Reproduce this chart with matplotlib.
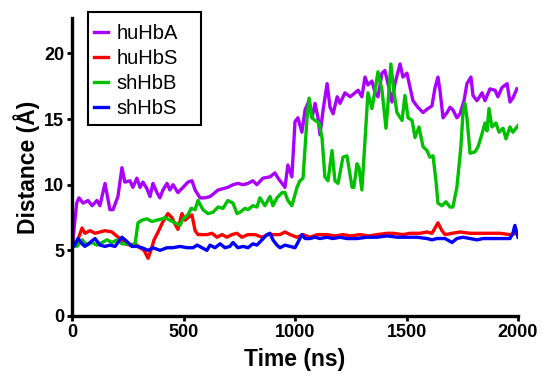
import matplotlib
matplotlib.use("Agg")
import matplotlib.pyplot as plt
from matplotlib.patches import Rectangle

# huHbA
t_hua = [0, 10, 21, 31, 50, 72, 90, 112, 125, 148, 170, 184, 206, 224, 237, 260, 273, 291, 305, 318,
         336, 350, 363, 381, 394, 408, 426, 439, 453, 475, 498, 520, 538, 552, 574, 596, 619, 641, 655,
         677, 699, 722, 744, 767, 789, 811, 829, 856, 888, 910, 924, 942, 955, 968, 986, 1000, 1013, 1031,
         1045, 1063, 1076, 1090, 1103, 1112, 1126, 1144, 1157, 1171, 1189, 1202, 1224, 1247, 1269, 1283,
         1300, 1314, 1327, 1345, 1359, 1372, 1390, 1403, 1417, 1435, 1448, 1471, 1484, 1502, 1516, 1529,
         1551, 1574, 1596, 1614, 1628, 1641, 1650, 1664, 1682, 1695, 1708, 1726, 1740, 1758, 1771, 1789,
         1798, 1816, 1839, 1852, 1874, 1897, 1910, 1928, 1951, 1964, 1977, 1995]
d_hua = [4.8, 6.8, 8.6, 9.0, 8.6, 8.8, 8.4, 8.8, 8.4, 10.1, 8.1, 8.1, 9.1, 11.3, 10.2, 10.3, 9.8, 10.5, 9.8, 10.2,
         9.7, 9.1, 10.1, 9.4, 9.0, 9.6, 10.1, 9.6, 10.0, 9.4, 9.8, 10.2, 10.3, 9.6, 9.0, 9.0, 9.1, 9.4, 9.6,
         9.7, 9.8, 10.0, 10.1, 10.0, 10.1, 10.3, 10.0, 10.5, 10.6, 10.9, 10.5, 10.1, 9.8, 11.5, 10.6, 14.8, 15.1, 14.0,
         15.7, 16.4, 15.1, 16.2, 15.1, 13.8, 15.7, 17.7, 15.9, 15.4, 16.7, 16.2, 17.0, 16.7, 17.0, 17.2,
         16.7, 18.2, 17.6, 17.9, 17.0, 16.7, 18.5, 18.7, 17.7, 16.3, 17.7, 19.2, 18.2, 18.5, 17.4, 16.4,
         15.9, 15.5, 15.8, 16.0, 17.4, 18.2, 17.2, 15.1, 15.5, 15.9, 15.7, 15.1, 15.4, 16.4, 17.7, 18.2,
         16.8, 16.4, 17.0, 16.4, 17.3, 17.2, 16.7, 17.4, 17.7, 16.3, 16.6, 17.3]

# huHbS
t_hus = [0, 22, 45, 58, 81, 103, 126, 148, 179, 193, 215, 238, 260, 283, 305, 323, 341, 354, 368, 386,
         408, 430, 448, 462, 475, 493, 507, 520, 538, 552, 565, 583, 605, 628, 650, 673, 695, 717, 740,
         762, 789, 821, 852, 879, 910, 933, 955, 978, 1009, 1036, 1067, 1100, 1143, 1180, 1215, 1250,
         1291, 1330, 1368, 1413, 1440, 1484, 1516, 1561, 1592, 1614, 1628, 1641, 1659, 1673, 1704, 1740,
         1785, 1830, 1874, 1919, 1964, 1995]
d_hus = [5.8, 5.6, 6.7, 6.3, 6.5, 6.3, 6.4, 6.5, 6.4, 6.2, 5.9, 5.5, 5.4, 5.5, 5.2, 5.0, 4.4, 5.0, 5.8, 6.4,
         7.2, 7.8, 7.5, 7.0, 6.6, 7.8, 7.3, 7.5, 7.7, 6.5, 6.2, 6.2, 6.2, 6.3, 6.0, 6.2, 6.0, 6.2, 6.3,
         6.0, 6.2, 6.2, 6.0, 6.2, 6.2, 6.2, 6.4, 6.2, 6.0, 6.2, 6.0, 6.2, 6.2, 6.1, 6.2, 6.1,
         6.2, 6.1, 6.2, 6.3, 6.3, 6.2, 6.3, 6.3, 6.4, 6.3, 6.7, 7.1, 6.5, 6.2, 6.3, 6.4,
         6.3, 6.3, 6.3, 6.3, 6.2, 6.3]

# shHbB
t_shb = [0, 4, 22, 45, 67, 90, 112, 135, 157, 179, 202, 224, 247, 269, 283, 296, 314, 336, 359, 381,
         404, 417, 439, 462, 484, 498, 520, 534, 552, 565, 587, 610, 632, 655, 677, 699, 722, 740, 753,
         776, 789, 811, 829, 843, 865, 888, 901, 919, 942, 955, 968, 986, 1009, 1022, 1036, 1054, 1063,
         1076, 1090, 1108, 1121, 1134, 1148, 1166, 1179, 1193, 1215, 1233, 1256, 1264, 1278, 1287, 1300,
         1314, 1327, 1345, 1359, 1372, 1390, 1408, 1417, 1430, 1444, 1457, 1480, 1493, 1507, 1525, 1538,
         1556, 1574, 1592, 1605, 1619, 1632, 1641, 1659, 1677, 1695, 1708, 1726, 1744, 1753, 1762, 1771,
         1785, 1807, 1821, 1839, 1852, 1861, 1870, 1883, 1901, 1915, 1933, 1946, 1964, 1977, 2000]
d_shb = [6.8, 5.5, 5.3, 5.8, 5.4, 5.6, 5.4, 5.6, 5.8, 5.6, 5.8, 5.5, 5.5, 5.4, 5.5, 7.1, 7.3, 7.4, 7.2, 7.3,
         7.4, 7.5, 7.3, 7.1, 6.9, 7.4, 7.7, 8.2, 8.1, 8.8, 8.1, 7.8, 7.9, 8.3, 8.2, 8.8, 8.6, 7.8, 7.9,
         8.2, 8.1, 8.4, 8.3, 9.0, 8.4, 9.1, 8.4, 9.0, 9.4, 9.4, 8.8, 8.4, 9.8, 10.3, 10.5, 15.1, 16.6,
         15.1, 14.9, 14.7, 13.6, 10.6, 10.3, 12.6, 10.3, 10.1, 12.1, 12.2, 9.8, 9.8, 11.6, 11.3, 9.6,
         13.4, 17.0, 15.8, 17.2, 18.6, 17.2, 14.3, 16.2, 19.2, 17.0, 15.5, 14.9, 16.8, 15.1, 14.9, 13.6,
         14.4, 12.9, 12.6, 12.1, 12.2, 10.3, 8.6, 8.4, 8.7, 8.3, 8.3, 9.8, 12.9, 15.4, 16.2, 15.1,
         12.4, 12.5, 12.9, 13.9, 14.7, 14.1, 15.8, 14.4, 14.7, 14.0, 14.3, 13.5, 14.4, 14.0, 14.5]

# shHbS
t_shs = [0, 9, 27, 45, 58, 81, 103, 126, 148, 170, 193, 206, 224, 238, 251, 269, 291, 314, 341, 363,
         395, 426, 453, 484, 516, 543, 561, 583, 605, 619, 641, 664, 686, 708, 722, 744, 767, 789, 811,
         829, 852, 874, 888, 901, 919, 933, 955, 978, 1000, 1013, 1031, 1045, 1067, 1090, 1112, 1143,
         1170, 1202, 1233, 1278, 1323, 1368, 1413, 1458, 1502, 1547, 1592, 1614, 1636, 1673, 1704, 1726,
         1753, 1785, 1816, 1843, 1888, 1933, 1964, 1977, 1986, 1995, 2000]
d_shs = [5.9, 5.3, 5.9, 5.5, 5.3, 5.6, 5.9, 5.4, 5.3, 5.4, 5.3, 5.6, 6.0, 5.8, 5.6, 5.3, 5.3, 5.2, 5.0, 5.2,
         5.0, 5.2, 5.2, 5.3, 5.2, 5.2, 5.4, 5.2, 5.0, 5.4, 5.2, 5.5, 5.2, 5.3, 5.6, 5.2, 5.3, 5.2, 5.5,
         5.4, 5.8, 6.2, 6.3, 5.8, 5.4, 5.2, 5.4, 5.3, 5.2, 5.6, 6.2, 5.9, 5.9, 6.0, 5.9, 6.0,
         5.9, 6.0, 5.9, 5.9, 6.0, 6.0, 6.1, 6.0, 6.0, 6.0, 5.9, 5.8, 5.9, 5.9, 5.6, 5.9,
         6.0, 5.9, 5.8, 5.9, 5.9, 5.9, 5.9, 6.3, 6.9, 6.3, 6.0]

labels = ["huHbA", "huHbS", "shHbB", "shHbS"]
colors = ["#AA00FF", "#FF0000", "#00C000", "#0000FF"]
x_ticks = [0, 500, 1000, 1500, 2000]
y_ticks = [0, 5, 10, 15, 20]

W, H = 542, 376
fig = plt.figure(figsize=(W / 100, H / 100), dpi=100)
ax = fig.add_axes([72 / W, 1 - 316 / H, 446 / W, 298 / H])

series = [(t_hua, d_hua), (t_hus, d_hus), (t_shb, d_shb), (t_shs, d_shs)]
for (t, d), lab, col in zip(series, labels, colors):
    ax.plot(t, d, color=col, lw=2.4, label=lab, solid_joinstyle="round")

ax.set_xlim(0, 2000)
ax.set_ylim(0, 22.7)
ax.set_xticks(x_ticks)
ax.set_yticks(y_ticks)

for side in ["top", "right"]:
    ax.spines[side].set_visible(False)
for side in ["left", "bottom"]:
    ax.spines[side].set_linewidth(2.4)
ax.tick_params(direction="out", length=3.5, width=2, labelsize=13, pad=2)
for lbl in ax.get_xticklabels() + ax.get_yticklabels():
    lbl.set_fontfamily("Liberation Sans")
    lbl.set_fontweight("bold")

ax.set_xlabel("Time (ns)", fontsize=16.5, fontweight="bold", family="Liberation Sans", labelpad=5)
ax.set_ylabel("Distance (Å)", fontsize=16.5, fontweight="bold", family="Liberation Sans", labelpad=3)

# legend without its own frame, box drawn separately (padding is uneven in the original)
leg = ax.legend(loc="upper left", bbox_to_anchor=(94 / W, 1 - 24 / H), bbox_transform=fig.transFigure,
                borderaxespad=0, borderpad=0, frameon=False,
                prop={"family": "Liberation Sans", "size": 14.5}, handlelength=0.7, handletextpad=0.4,
                labelspacing=0.3)
box = Rectangle((88 / W, 1 - 125 / H), 113 / W, 113 / H, transform=fig.transFigure,
                fill=False, edgecolor="black", lw=1.5)
fig.add_artist(box)

fig.savefig("out.png", dpi=100)
